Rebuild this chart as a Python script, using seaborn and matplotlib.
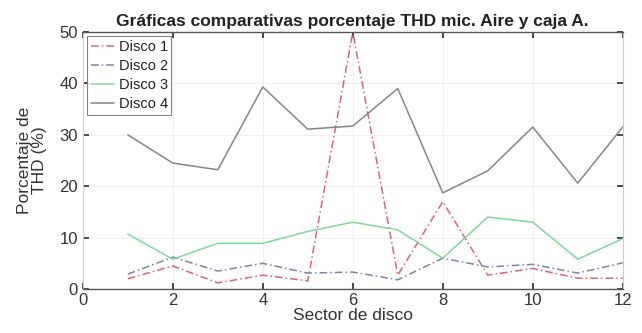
import matplotlib
matplotlib.use("Agg")
import matplotlib.pyplot as plt
import seaborn as sns
import pandas as pd

sectores = [1, 2, 3, 4, 5, 6, 7, 8, 9, 10, 11, 12]
disco1 = [2.0, 4.5, 1.2, 2.7, 1.6, 50.0, 2.7, 17.0, 2.7, 4.0, 2.1, 2.1]
disco2 = [2.9, 6.2, 3.5, 5.0, 3.1, 3.3, 1.8, 6.0, 4.3, 4.8, 3.1, 5.1]
disco3 = [10.7, 5.8, 8.9, 8.9, 11.2, 13.0, 11.5, 6.0, 14.0, 13.0, 5.8, 9.8]
disco4 = [30.0, 24.5, 23.2, 39.3, 31.1, 31.7, 39.0, 18.7, 23.0, 31.5, 20.6, 31.5]
nombres = ["Disco 1", "Disco 2", "Disco 3", "Disco 4"]
xticks = [0, 2, 4, 6, 8, 10, 12]
yticks = [0, 10, 20, 30, 40, 50]

sns.set_theme(style="white")
plt.rcParams['font.family'] = ['Liberation Sans', 'DejaVu Sans']

fig = plt.figure(figsize=(6.42, 3.33), dpi=100)
ax = fig.add_axes([0.129, 0.132, 0.841, 0.772])

series = [disco1, disco2, disco3, disco4]
colores = ["#e0607a", "#7c80b0", "#7fd89a", "#858585"]
estilos = [(0, (5, 2, 1, 2)), (0, (5, 2, 1, 2)), "-", "-"]
for nombre, vals, c, ls in zip(nombres, series, colores, estilos):
    df = pd.DataFrame({"Sector": sectores, "THD": vals})
    sns.lineplot(data=df, x="Sector", y="THD", ax=ax, color=c, linestyle=ls,
                 linewidth=1.1, label=nombre)

ax.set_xlim(0, 12)
ax.set_ylim(0, 50)
ax.set_xticks(xticks)
ax.set_yticks(yticks)
ax.tick_params(axis="both", direction="in", length=4, labelsize=12,
               colors="#333333", right=True, top=True, bottom=True, left=True)
ax.tick_params(axis="x", pad=3)
ax.grid(True, color="#ececec", linewidth=0.6)
for s in ["top", "bottom"]:
    ax.spines[s].set_color("#555555")
    ax.spines[s].set_linewidth(1.0)
for s in ["left", "right"]:
    ax.spines[s].set_color("#cccccc")
    ax.spines[s].set_linewidth(0.8)

ax.set_title("Gráficas comparativas porcentaje THD mic. Aire y caja A.",
             fontsize=12.5, fontweight="bold", color="#222222", pad=4)
ax.set_xlabel("Sector de disco", fontsize=12.5, color="#333333", labelpad=0)
ax.set_ylabel("Porcentaje de\nTHD (%)", fontsize=12.5, color="#333333",
              labelpad=9, linespacing=1.0)

leg = ax.legend(loc="upper left", fontsize=10.5, frameon=True, fancybox=False,
                handlelength=1.6, handletextpad=0.3, borderpad=0.25,
                labelspacing=0.35, borderaxespad=0.3)
leg.get_frame().set_edgecolor("#666666")
leg.get_frame().set_linewidth(0.8)
for t in leg.get_texts():
    t.set_color("#222222")

fig.savefig("out.png", dpi=100)
